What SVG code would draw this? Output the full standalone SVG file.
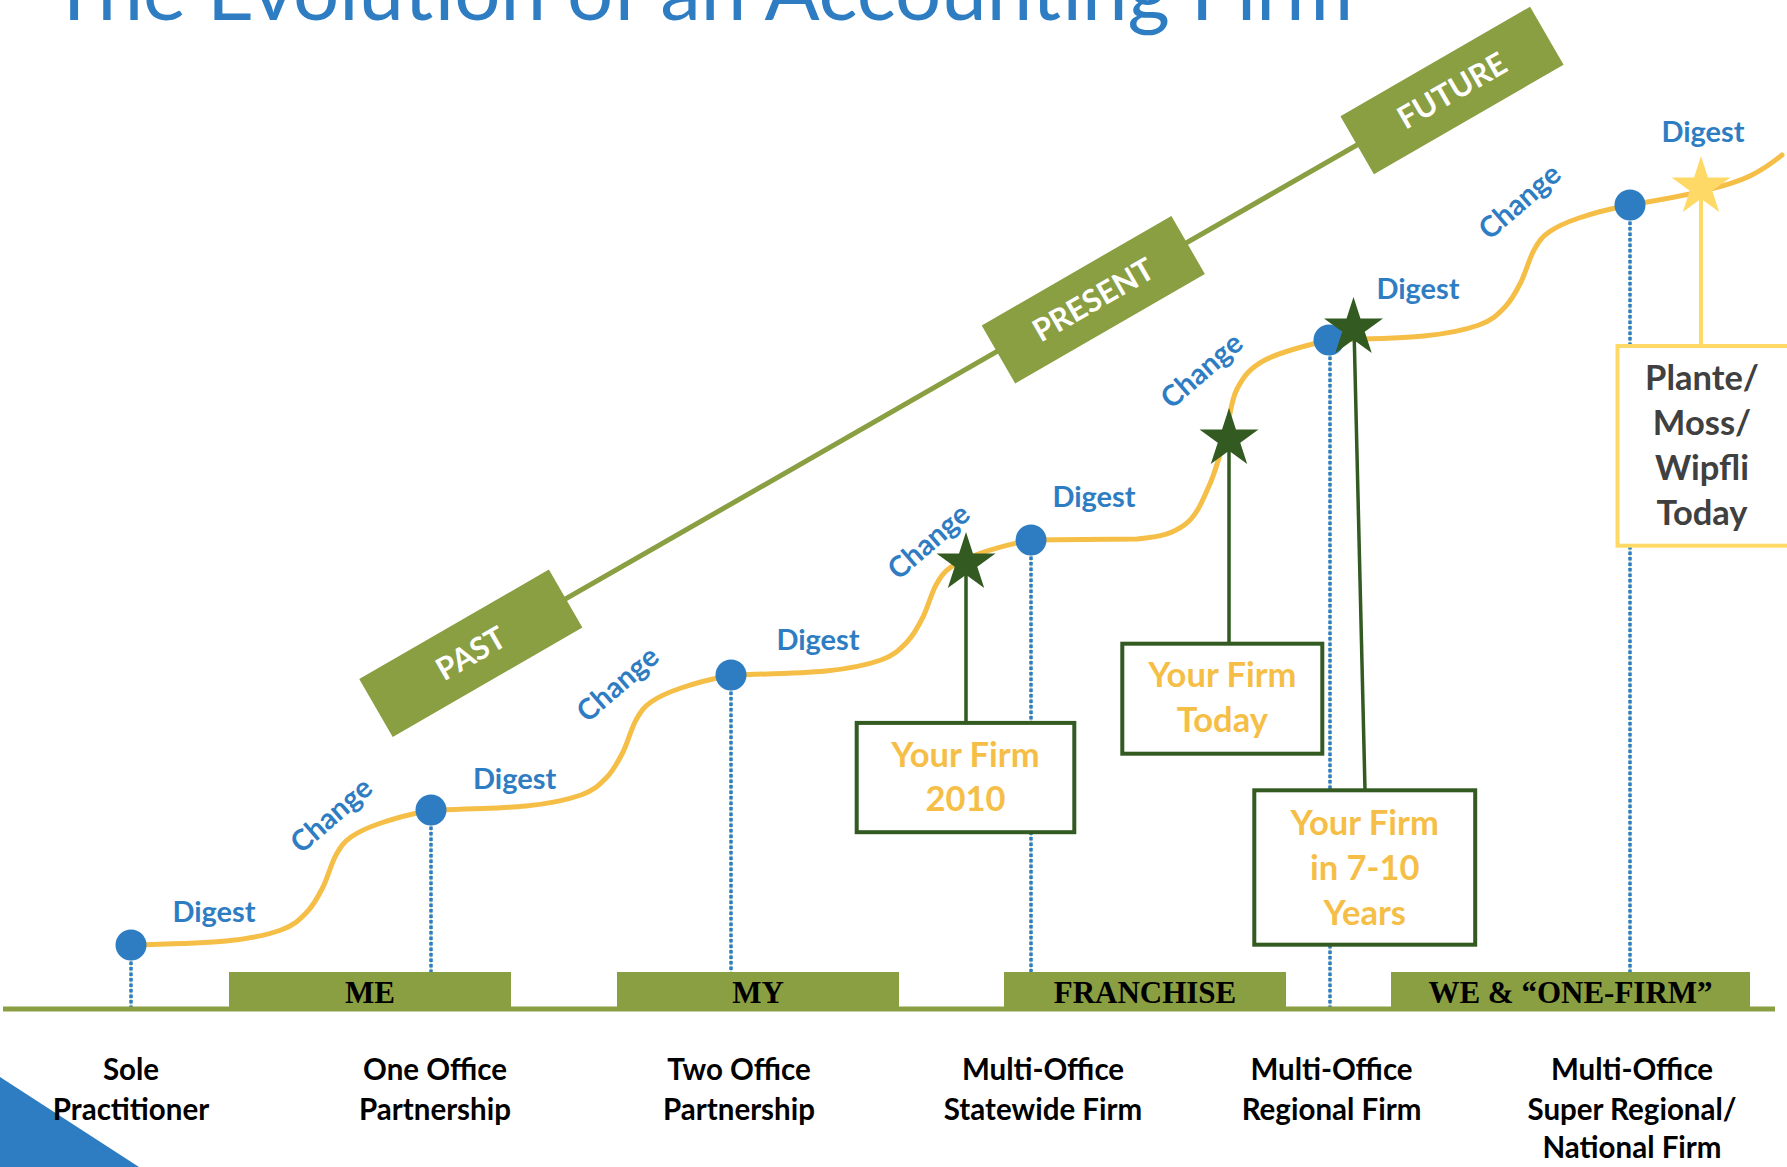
<svg xmlns="http://www.w3.org/2000/svg" width="1787" height="1167" viewBox="0 0 1787 1167">
<style>
  .title{font-family:Lato,"Liberation Sans",sans-serif;font-weight:400;font-size:82px;fill:#2E7DC3}
  .lbl{font-family:Lato,"Liberation Sans",sans-serif;font-weight:700;font-size:29px;fill:#2E7DC3;text-anchor:middle}
  .bot{font-family:Lato,"Liberation Sans",sans-serif;font-weight:700;font-size:29.5px;fill:#000;text-anchor:middle}
  .cat{font-family:"Liberation Serif",serif;font-weight:700;font-size:31px;fill:#000;text-anchor:middle}
  .era{font-family:Lato,"Liberation Sans",sans-serif;font-weight:700;font-size:31px;fill:#fff;text-anchor:middle}
  .firm{font-family:Lato,"Liberation Sans",sans-serif;font-weight:700;font-size:34.5px;fill:#F5BE47;text-anchor:middle}
  .plante{font-family:Lato,"Liberation Sans",sans-serif;font-weight:700;font-size:34.5px;fill:#404040;text-anchor:middle}
  .olive{fill:#8A9E42}
  .dotbg{stroke:#A9D18E;stroke-width:1}
  .dot{stroke:#2E7DC3;stroke-width:3.5;stroke-dasharray:3.5 2}
  .fbox{fill:#fff;stroke:#325A21;stroke-width:4}
  .stem{stroke:#325A21;stroke-width:3.5}
  .gstar{fill:#325A21}
  .node{fill:#2E7DC3}
</style>
<defs>
  <polygon id="star" points="0,-31 6.96,-9.58 29.48,-9.58 11.26,3.66 18.22,25.08 0,11.84 -18.22,25.08 -11.26,3.66 -29.48,-9.58 -6.96,-9.58"/>
  <rect id="erabox" x="-109.5" y="-33.5" width="219" height="67"/>
</defs>

<text class="title" x="50" y="19.5" textLength="1303" lengthAdjust="spacingAndGlyphs">The Evolution of an Accounting Firm</text>
<polygon id="corner" points="0,1077 139,1167 0,1167" fill="#2E7DC3"/>

<g id="connectors">
  <line x1="470.8" y1="653.3" x2="1452" y2="90.5" stroke="#8A9E42" stroke-width="5"/>
  <g id="droplines">
    <line class="dotbg" x1="131" y1="945" x2="131" y2="1007"/><line class="dot" x1="131" y1="945" x2="131" y2="1007"/>
    <line class="dotbg" x1="431" y1="810" x2="431" y2="972"/><line class="dot" x1="431" y1="810" x2="431" y2="972"/>
    <line class="dotbg" x1="731" y1="675" x2="731" y2="972"/><line class="dot" x1="731" y1="675" x2="731" y2="972"/>
    <line class="dotbg" x1="1031" y1="540" x2="1031" y2="972"/><line class="dot" x1="1031" y1="540" x2="1031" y2="972"/>
    <line class="dotbg" x1="1330" y1="340" x2="1330" y2="1007"/><line class="dot" x1="1330" y1="340" x2="1330" y2="1007"/>
    <line class="dotbg" x1="1630" y1="205" x2="1630" y2="972"/><line class="dot" x1="1630" y1="205" x2="1630" y2="972"/>
  </g>
  <path id="curve" fill="none" stroke="#F5BE47" stroke-width="5" stroke-linecap="round" d="M131,945
    c 24.2,-0.7 70,-1.5 95,-4 c 25,-2.5 41.5,-6.2 55,-11 c 13.5,-4.8 19,-10.8 26,-18 c 7,-7.2 11.2,-15.5 16,-25 c 4.8,-9.5 8.3,-23.7 13,-32 c 4.7,-8.3 7.5,-12.7 15,-18 c 7.5,-5.3 16.7,-9.5 30,-14 c 13.3,-4.5 35,-10 50,-13
    c 24.2,-0.7 70,-1.5 95,-4 c 25,-2.5 41.5,-6.2 55,-11 c 13.5,-4.8 19,-10.8 26,-18 c 7,-7.2 11.2,-15.5 16,-25 c 4.8,-9.5 8.3,-23.7 13,-32 c 4.7,-8.3 7.5,-12.7 15,-18 c 7.5,-5.3 16.7,-9.5 30,-14 c 13.3,-4.5 35,-10 50,-13
    c 24.2,-0.7 70,-1.5 95,-4 c 25,-2.5 41.5,-6.2 55,-11 c 13.5,-4.8 19,-10.8 26,-18 c 7,-7.2 11.2,-15.5 16,-25 c 4.8,-9.5 8.3,-23.7 13,-32 c 4.7,-8.3 7.5,-12.7 15,-18 c 7.5,-5.3 16.7,-9.5 30,-14 c 13.3,-4.5 35,-10 50,-13
    c 26,-0.2 80,-0.5 106,-1 c 25.7,-2.6 36,-5.7 48,-14.5 c 12,-8.8 17.3,-23.9 24,-38.5 c 6.7,-14.6 11.3,-32.8 16,-49 c 4.7,-16.2 5.3,-35.2 12,-48 c 6.7,-12.8 12.7,-20.8 28,-29 c 15.3,-8.2 46.3,-15.8 64,-20
    c 24.2,-0.7 70,-1.5 95,-4 c 25,-2.5 41.5,-6.2 55,-11 c 13.5,-4.8 19,-10.8 26,-18 c 7,-7.2 11.2,-15.5 16,-25 c 4.8,-9.5 8.3,-23.7 13,-32 c 4.7,-8.3 7.5,-12.7 15,-18 c 7.5,-5.3 16.7,-9.5 30,-14 c 13.3,-4.5 35,-10 50,-13
    C1680,197 1725,188 1750,176 C1762,170 1772,163 1782,155"/>
  <g id="stems">
    <line class="stem" x1="966" y1="563" x2="966" y2="723"/>
    <line class="stem" x1="1229" y1="439" x2="1229" y2="644"/>
    <line class="stem" x1="1354" y1="328" x2="1365" y2="790"/>
    <line x1="1701" y1="187" x2="1701" y2="346" stroke="#FFD966" stroke-width="4"/>
  </g>
</g>

<g id="era-past" transform="translate(470.8,653.3) rotate(-30)"><use href="#erabox" class="olive"/><text class="era" y="11">PAST</text></g>
<g id="era-present" transform="translate(1093.3,299.7) rotate(-30)"><use href="#erabox" class="olive"/><text class="era" y="11">PRESENT</text></g>
<g id="era-future" transform="translate(1452,90.5) rotate(-30)"><use href="#erabox" class="olive"/><text class="era" y="11">FUTURE</text></g>

<g id="timeline">
  <rect x="3" y="1006.5" width="1772" height="5" class="olive"/>
</g>
<g id="cat-me"><rect x="229" y="972" width="282" height="37" class="olive"/><text class="cat" x="370" y="1003">ME</text></g>
<g id="cat-my"><rect x="617" y="972" width="282" height="37" class="olive"/><text class="cat" x="758" y="1003">MY</text></g>
<g id="cat-franchise"><rect x="1004" y="972" width="282" height="37" class="olive"/><text class="cat" x="1145" y="1003">FRANCHISE</text></g>
<g id="cat-we"><rect x="1391" y="972" width="359" height="37" class="olive"/><text class="cat" x="1570.5" y="1003">WE &amp; “ONE-FIRM”</text></g>

<g id="dots">
  <circle id="dot-sole" class="node" cx="131" cy="945" r="15.5"/>
  <circle id="dot-one" class="node" cx="431" cy="810" r="15.5"/>
  <circle id="dot-two" class="node" cx="731" cy="675" r="15.5"/>
  <circle id="dot-state" class="node" cx="1031" cy="540" r="15.5"/>
  <circle id="dot-regional" class="node" cx="1329" cy="340" r="15.5"/>
  <circle id="dot-national" class="node" cx="1630" cy="205" r="15.5"/>
</g>

<g id="box-2010"><rect class="fbox" x="856.7" y="722.9" width="217.6" height="109.3"/><text class="firm" x="965.5" y="766.8">Your Firm</text><text class="firm" x="965.5" y="811.4">2010</text></g>
<g id="box-today"><rect class="fbox" x="1122.3" y="643.7" width="200" height="110"/><text class="firm" x="1222.3" y="686.8">Your Firm</text><text class="firm" x="1222.3" y="732">Today</text></g>
<g id="box-future"><rect class="fbox" x="1254.3" y="790.3" width="220.9" height="154.4"/><text class="firm" x="1364.7" y="835">Your Firm</text><text class="firm" x="1364.7" y="880">in 7-10</text><text class="firm" x="1364.7" y="925">Years</text></g>
<g id="box-plante"><rect x="1617.5" y="346" width="172" height="199.7" fill="#fff" stroke="#FFD966" stroke-width="4"/><text class="plante" x="1702" y="390.4">Plante/</text><text class="plante" x="1702" y="435.1">Moss/</text><text class="plante" x="1702" y="480.3">Wipfli</text><text class="plante" x="1702" y="525">Today</text></g>

<g id="star-2010"><use href="#star" class="gstar" transform="translate(966,563)"/></g>
<g id="star-today"><use href="#star" class="gstar" transform="translate(1229,439)"/></g>
<g id="star-future"><use href="#star" class="gstar" transform="translate(1353.5,328)"/></g>
<g id="star-plante"><use href="#star" fill="#FFD966" transform="translate(1701,187)"/></g>

<g id="digest-labels">
  <text class="lbl" x="214" y="921.7">Digest</text>
  <text class="lbl" x="514.6" y="789.3">Digest</text>
  <text class="lbl" x="818" y="649.5">Digest</text>
  <text class="lbl" x="1094" y="507">Digest</text>
  <text class="lbl" x="1418" y="299.3">Digest</text>
  <text class="lbl" x="1703" y="142.4">Digest</text>
</g>
<g id="change-labels">
  <text class="lbl" transform="translate(332.6,816.7) rotate(-41)" y="8">Change</text>
  <text class="lbl" transform="translate(619,685.5) rotate(-41)" y="8">Change</text>
  <text class="lbl" transform="translate(930,543) rotate(-41)" y="8">Change</text>
  <text class="lbl" transform="translate(1203,372) rotate(-41)" y="8">Change</text>
  <text class="lbl" transform="translate(1521,203) rotate(-41)" y="8">Change</text>
</g>

<g id="stage-sole"><text class="bot" x="131" y="1079.5">Sole</text><text class="bot" x="131" y="1119.5">Practitioner</text></g>
<g id="stage-one"><text class="bot" x="435" y="1079.5">One Office</text><text class="bot" x="435" y="1119.5">Partnership</text></g>
<g id="stage-two"><text class="bot" x="739" y="1079.5">Two Office</text><text class="bot" x="739" y="1119.5">Partnership</text></g>
<g id="stage-state"><text class="bot" x="1043" y="1079.5">Multi-Office</text><text class="bot" x="1043" y="1119.5">Statewide Firm</text></g>
<g id="stage-regional"><text class="bot" x="1331.5" y="1079.5">Multi-Office</text><text class="bot" x="1331.5" y="1119.5">Regional Firm</text></g>
<g id="stage-national"><text class="bot" x="1632" y="1079.5">Multi-Office</text><text class="bot" x="1632" y="1119.5">Super Regional/</text><text class="bot" x="1632" y="1157.5">National Firm</text></g>
</svg>
